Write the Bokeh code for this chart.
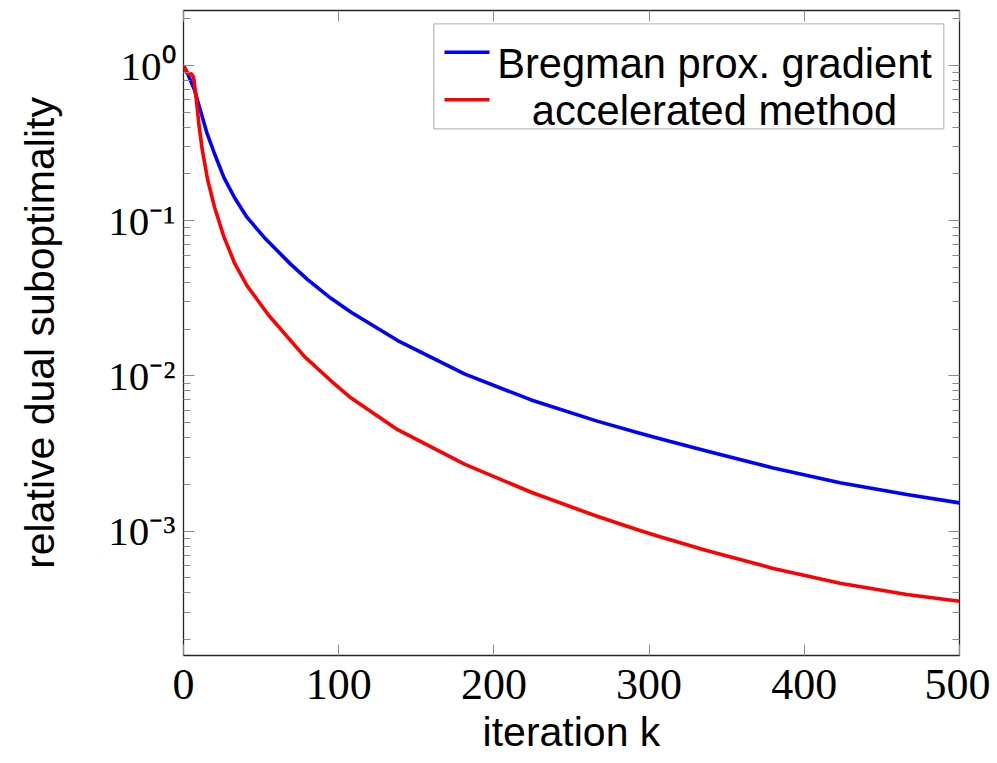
import math
from bokeh.plotting import figure
from bokeh.models import (Range1d, FixedTicker, LinearAxis, LogAxis,
                          BoxAnnotation, Label)
from bokeh.embed import file_html
from bokeh.resources import INLINE

# ---------------- data ----------------
k_blue = [0, 3, 7, 11, 15, 20, 26, 33, 41, 52, 69, 80, 95, 108, 138, 181,
          224, 266, 294, 307, 337, 380, 423, 466, 500]
v_blue = [1.0, 0.87, 0.70, 0.51, 0.37, 0.27, 0.19, 0.14, 0.105, 0.078,
          0.0525, 0.0417, 0.0316, 0.0257, 0.0169, 0.0103, 0.0070, 0.00513,
          0.00427, 0.00394, 0.00328, 0.00255, 0.00205, 0.00172, 0.00152]

k_red = [0, 2.5, 5, 6.5, 8, 10, 12, 15.5, 20, 26, 33, 41, 55, 78, 95, 108,
         138, 181, 224, 266, 294, 307, 337, 380, 423, 466, 500]
v_red = [1.0, 0.89, 0.885, 0.84, 0.64, 0.41, 0.29, 0.185, 0.122, 0.079,
         0.053, 0.038, 0.0245, 0.0133, 0.0093, 0.0072, 0.0045, 0.0027,
         0.00178, 0.00125, 0.00101, 0.00092, 0.00075, 0.000575, 0.000462,
         0.00039, 0.000353]

series_names = ["Bregman prox. gradient", "accelerated method"]
series_colors = ["#0000ff", "#ff0000"]

x_ticks = [0, 100, 200, 300, 400, 500]
y_ticks = [1.0, 0.1, 0.01, 0.001]
y_tick_labels = ["10\u2070", "10\u207b\u00b9", "10\u207b\u00b2", "10\u207b\u00b3"]
x_title = "iteration k"
y_title = "relative dual suboptimality"

# ---------------- layout (page px == figure px) ----------------
W, H = 990, 763
FL, FR, FT, FB = 183, 959, 10, 655
LOG_TOP = 0.3544
LOG_BOT = LOG_TOP - (FB - FT) / 155.2
X0, X1 = 0, 500


def xd(px):
    return X0 + (px - FL) / (FR - FL) * (X1 - X0)


def yd(py):
    return 10 ** (LOG_TOP - (py - FT) / (FB - FT) * (LOG_TOP - LOG_BOT))


def sx(px):          # screen units: from frame left
    return px - FL


def sy(py):          # screen units: up from frame bottom
    return FB - py


p = figure(width=W, height=H, y_axis_type="log",
           x_range=Range1d(X0, X1), y_range=Range1d(10 ** LOG_BOT, 10 ** LOG_TOP),
           output_backend="svg", toolbar_location=None,
           min_border_left=FL, min_border_right=W - FR,
           min_border_top=FT, min_border_bottom=H - FB)
p.background_fill_color = "white"
p.border_fill_color = "white"
p.grid.visible = False
p.outline_line_color = "#262626"
p.outline_line_width = 1.3

minor = []
for d in range(-4, 1):
    for m in range(2, 10):
        minor.append(m * 10 ** d)

TICK_COLOR = "#8a8a8a"
SERIF = "Liberation Serif"
SANS = "Liberation Sans"


def style_axis(ax, show_labels=False):
    ax.axis_line_color = None
    ax.major_tick_in = 11
    ax.major_tick_out = 0
    ax.minor_tick_in = 7
    ax.minor_tick_out = 0
    ax.major_tick_line_color = TICK_COLOR
    ax.minor_tick_line_color = TICK_COLOR
    ax.major_tick_line_width = 1
    ax.minor_tick_line_width = 1
    if not show_labels:
        ax.major_label_text_color = None
        ax.major_label_text_font_size = "1px"
        ax.major_label_standoff = 0


# bottom axis
xa = p.xaxis[0]
xa.ticker = FixedTicker(ticks=x_ticks, minor_ticks=[])
style_axis(xa, show_labels=True)
xa.major_label_text_font = SERIF
xa.major_label_text_font_size = "44px"
xa.major_label_text_color = "black"
xa.major_label_standoff = 14
xa.axis_label = x_title
xa.axis_label_text_font = SANS
xa.axis_label_text_font_style = "normal"
xa.axis_label_text_font_size = "41px"
xa.axis_label_text_color = "black"
xa.axis_label_standoff = 7

# left axis
ya = p.yaxis[0]
ya.ticker = FixedTicker(ticks=y_ticks, minor_ticks=minor)
style_axis(ya, show_labels=True)
ya.major_label_overrides = dict(zip(y_ticks, y_tick_labels))
ya.major_label_text_font = SERIF
ya.major_label_text_font_size = "41px"
ya.major_label_text_color = "black"
ya.major_label_standoff = 8
ya.axis_label = y_title
ya.axis_label_text_font = SANS
ya.axis_label_text_font_style = "normal"
ya.axis_label_text_font_size = "41px"
ya.axis_label_text_color = "black"
ya.axis_label_standoff = 42

# mirrored axes
top = LinearAxis(ticker=FixedTicker(ticks=x_ticks, minor_ticks=[]))
style_axis(top)
p.add_layout(top, "above")
right = LogAxis(ticker=FixedTicker(ticks=y_ticks, minor_ticks=minor))
style_axis(right)
p.add_layout(right, "right")

# curves
for ks, vs, col in [(k_blue, v_blue, series_colors[0]), (k_red, v_red, series_colors[1])]:
    p.line(ks, vs, line_color=col, line_width=3.6, line_join="round")

# legend
p.add_layout(BoxAnnotation(left=xd(433.3), right=xd(943.3), top=yd(23.3),
                           bottom=yd(128.3), fill_color="white", fill_alpha=1.0,
                           line_color="#262626", line_width=1.3))
legend_rows = [51.7, 99.3]
legend_base = [63.3, 110.0]
for name, col, ry, rb in zip(series_names, series_colors, legend_rows, legend_base):
    p.segment(x0=[xd(444)], y0=[yd(ry)], x1=[xd(489)], y1=[yd(ry)],
              line_color=col, line_width=3.6, level="overlay")
    p.add_layout(Label(x=sx(714), y=sy(rb), x_units="screen", y_units="screen",
                       text=name, text_align="center", text_baseline="alphabetic",
                       text_font=SANS, text_font_size="41.6px", text_color="black"))

open("out.html", "w").write(file_html(p, INLINE))
